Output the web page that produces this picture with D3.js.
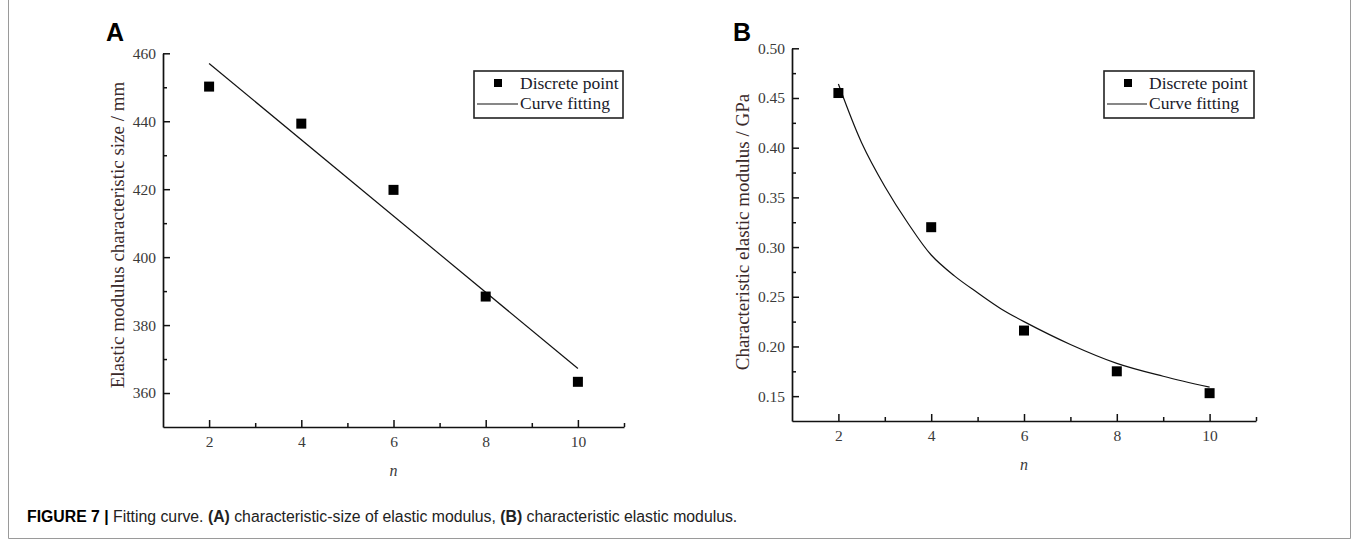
<!DOCTYPE html>
<html><head><meta charset="utf-8">
<script src="https://cdn.jsdelivr.net/npm/d3@7"></script>
<style>body{margin:0;background:#fff;} svg{display:block}</style>
</head><body><svg id="c" width="1357" height="541"></svg>
<script>
// ---- data ----
const nValues = [2, 4, 6, 8, 10];
const sizeA = [450.2, 439.3, 419.8, 388.4, 363.3];
const fitAX = [2, 10];
const fitAY = [457.0, 367.2];
const modulusB = [0.455, 0.320, 0.216, 0.175, 0.153];
const fitBX = [2, 2.5, 3, 3.5, 4, 4.5, 5, 5.5, 6, 7, 8, 9, 10];
const fitBY = [0.464, 0.405, 0.361, 0.324, 0.292, 0.271, 0.254, 0.238, 0.225, 0.202, 0.183, 0.170, 0.159];
const xTicks = [2, 4, 6, 8, 10];
const xMinor = [3, 5, 7, 9, 11];
const yTicksA = [360, 380, 400, 420, 440, 460];
const yMinorA = [370, 390, 410, 430, 450];
const yTicksB = [0.15, 0.20, 0.25, 0.30, 0.35, 0.40, 0.45, 0.50];
const yMinorB = [0.175, 0.225, 0.275, 0.325, 0.375, 0.425, 0.475];
const legendLabels = ["Discrete point", "Curve fitting"];
const titlesY = ["Elastic modulus characteristic size / mm", "Characteristic elastic modulus / GPa"];
const caption = ["FIGURE 7 | ", "Fitting curve. ", "(A)", " characteristic-size of elastic modulus, ", "(B)", " characteristic elastic modulus."];

const svg = d3.select("#c");
const serif = "'Liberation Serif', 'Times New Roman', serif";
const sans = "'Liberation Sans', Arial, sans-serif";

// frame
svg.append("path").attr("d", "M8.5,0 V538.5 H1350.5 V0").attr("fill", "none").attr("stroke", "#9a9a9a").attr("stroke-width", 1);

function panel(o) {
  const x = d3.scaleLinear().domain([1, 11]).range(o.xr);
  const y = d3.scaleLinear().domain(o.yd).range(o.yr);
  const g = svg.append("g");
  const style = sel => {
    sel.select(".domain").attr("stroke", "#111").attr("stroke-width", 1.7);
    sel.selectAll(".tick line").attr("stroke", "#111").attr("stroke-width", 1.5);
    sel.selectAll(".tick text").attr("fill", "#3a3a3a").style("font-family", serif).style("font-size", "15.5px");
  };
  // x axis
  g.append("g").attr("transform", `translate(0,${o.yr[0]})`)
    .call(d3.axisBottom(x).tickValues(xTicks).tickSizeInner(-7).tickSizeOuter(0).tickPadding(9).tickFormat(d3.format("d")))
    .call(style);
  g.append("g").attr("transform", `translate(0,${o.yr[0]})`)
    .call(d3.axisBottom(x).tickValues(xMinor).tickSizeInner(-4).tickSizeOuter(0).tickFormat(""))
    .call(style).call(s => s.select(".domain").remove());
  // y axis
  g.append("g").attr("transform", `translate(${o.xr[0]},0)`)
    .call(d3.axisLeft(y).tickValues(o.yTicks).tickSizeInner(-7).tickSizeOuter(0).tickPadding(7).tickFormat(o.fmt))
    .call(style);
  g.append("g").attr("transform", `translate(${o.xr[0]},0)`)
    .call(d3.axisLeft(y).tickValues(o.yMinor).tickSizeInner(-4).tickSizeOuter(0).tickFormat(""))
    .call(style).call(s => s.select(".domain").remove());

  // fit curve
  const line = d3.line().x(d => x(d[0])).y(d => y(d[1])).curve(d3.curveCatmullRom.alpha(0.5));
  g.append("path").datum(o.fx.map((v, i) => [v, o.fy[i]]))
    .attr("d", line).attr("fill", "none").attr("stroke", "#111").attr("stroke-width", 1.2);
  // points
  g.selectAll("rect.pt").data(nValues.map((v, i) => [v, o.vals[i]])).join("rect")
    .attr("class", "pt")
    .attr("x", d => x(d[0]) - 5).attr("y", d => y(d[1]) - 5)
    .attr("width", 10).attr("height", 10).attr("fill", "#000");

  // titles
  g.append("text").attr("transform", `translate(${o.ytx},${o.yty}) rotate(-90)`)
    .attr("text-anchor", "middle").attr("dy", "0.35em")
    .style("font-family", serif).style("font-size", "19px").attr("fill", "#3a2a2a")
    .text(o.ytitle);
  g.append("text").attr("x", (o.xr[0] + o.xr[1]) / 2).attr("y", o.xty)
    .attr("text-anchor", "middle").style("font-family", serif).style("font-style", "italic")
    .style("font-size", "16px").attr("fill", "#3a3a3a").text("n");
  g.append("text").attr("x", o.lx).attr("y", o.ly)
    .style("font-family", sans).style("font-weight", "bold").style("font-size", "25px").attr("fill", "#000")
    .text(o.letter);

  // legend
  const L = o.leg;
  g.append("rect").attr("x", L.x).attr("y", L.y).attr("width", L.w).attr("height", L.h)
    .attr("fill", "#fff").attr("stroke", "#222").attr("stroke-width", 1.6);
  g.append("rect").attr("x", L.mx - 4).attr("y", L.y + 12 - 4).attr("width", 8).attr("height", 8).attr("fill", "#000");
  g.append("line").attr("x1", L.x + 3).attr("x2", L.tx - 2).attr("y1", L.y + 33).attr("y2", L.y + 33)
    .attr("stroke", "#111").attr("stroke-width", 1.2);
  legendLabels.forEach((t, i) => {
    g.append("text").attr("x", L.tx).attr("y", L.y + 18 + i * 20)
      .style("font-family", serif).style("font-size", "17.5px").attr("fill", "#1a1a2a").text(t);
  });
}

panel({
  xr: [163, 624], yr: [427, 53.3], yd: [350, 460], yTicks: yTicksA, yMinor: yMinorA, fmt: d3.format("d"),
  vals: sizeA, fx: fitAX, fy: fitAY, ytitle: titlesY[0], ytx: 117, yty: 235, xty: 476,
  letter: "A", lx: 106, ly: 41,
  leg: {x: 474, y: 71, w: 149, h: 47, mx: 498, tx: 520}
});
panel({
  xr: [792, 1256], yr: [421, 48.3], yd: [0.125, 0.50], yTicks: yTicksB, yMinor: yMinorB, fmt: d3.format(".2f"),
  vals: modulusB, fx: fitBX, fy: fitBY, ytitle: titlesY[1], ytx: 742, yty: 232, xty: 470,
  letter: "B", lx: 733, ly: 41,
  leg: {x: 1104, y: 71, w: 150, h: 47, mx: 1128, tx: 1149}
});

// caption
const cap = svg.append("text").attr("x", 27).attr("y", 522)
  .style("font-family", sans).style("font-size", "15.8px").attr("fill", "#222");
caption.forEach((t, i) => {
  cap.append("tspan").text(t).style("font-weight", (i === 0 || i === 2 || i === 4) ? "bold" : "normal")
    .attr("fill", i === 0 ? "#000" : "#222");
});
</script>
</body></html>
